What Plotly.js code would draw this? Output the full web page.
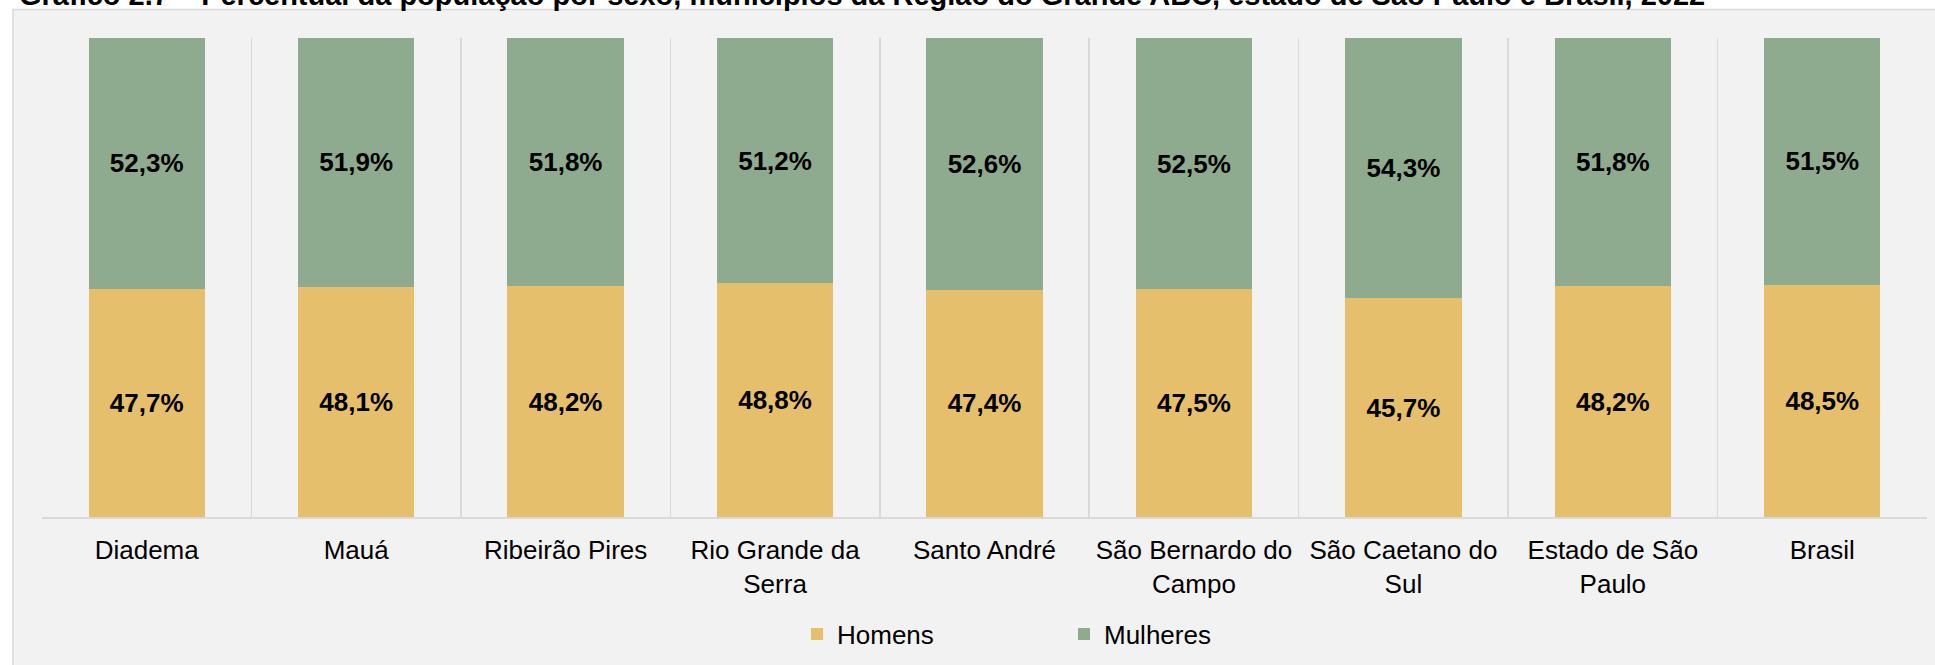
<!DOCTYPE html>
<html>
<head>
<meta charset="utf-8">
<script src="https://cdn.plot.ly/plotly-3.0.1.min.js"></script>
<style>
html,body{margin:0;padding:0;background:#ffffff;}
#chart{width:1935px;height:665px;}
</style>
</head>
<body>
<div id="chart"></div>
<script>
const categories = [
  "Diadema",
  "Mauá",
  "Ribeirão Pires",
  "Rio Grande da<br>Serra",
  "Santo André",
  "São Bernardo do<br>Campo",
  "São Caetano do<br>Sul",
  "Estado de São<br>Paulo",
  "Brasil"
];
const homens   = [47.7, 48.1, 48.2, 48.8, 47.4, 47.5, 45.7, 48.2, 48.5];
const mulheres = [52.3, 51.9, 51.8, 51.2, 52.6, 52.5, 54.3, 51.8, 51.5];
const seriesNames = ["Homens", "Mulheres"];
const titleText = "Gráfico 2.7 – Percentual da população por sexo, municípios da Região do Grande ABC, estado de São Paulo e Brasil, 2022";

const W = 1935, H = 665;
const M = {l: 42, r: 8, t: 38, b: 148};
const pw = W - M.l - M.r, ph = H - M.t - M.b;
const px2x = p => (p - M.l) / pw;
const py2y = p => (H - M.b - p) / ph;

const font = "Liberation Sans, Arial, sans-serif";
const common = {
  type: "bar",
  x: categories,
  textposition: "inside",
  insidetextanchor: "middle",
  texttemplate: "%{y:.1f}%",
  textfont: {family: font, size: 26, color: "#000000", weight: "bold"},
  hoverinfo: "skip"
};

const data = [
  Object.assign({}, common, {name: seriesNames[0], y: homens, marker: {color: "#E5BF6B"}}),
  Object.assign({}, common, {name: seriesNames[1], y: mulheres, marker: {color: "#8EAB8F"}})
];

const layout = {
  width: W, height: H,
  margin: M,
  barmode: "stack",
  bargap: 0.445,
  separators: ",.",
  paper_bgcolor: "#ffffff",
  plot_bgcolor: "rgba(0,0,0,0)",
  font: {family: font, size: 24, color: "#000000"},
  xaxis: {
    type: "category",
    tickson: "boundaries",
    showgrid: true,
    gridcolor: "#D9D9D9",
    gridwidth: 1.5,
    showline: true,
    linecolor: "#D9D9D9",
    linewidth: 1.5,
    ticks: "",
    ticklabelstandoff: 9,
    tickfont: {family: font, size: 26, color: "#000000"},
    fixedrange: true
  },
  yaxis: {
    range: [0, 100],
    showgrid: false,
    zeroline: false,
    showticklabels: false,
    showline: false,
    fixedrange: true
  },
  showlegend: true,
  legend: {
    orientation: "h",
    traceorder: "normal",
    x: px2x(797), xanchor: "left",
    y: py2y(634), yanchor: "middle",
    font: {family: font, size: 26, color: "#000000"},
    entrywidth: 222, entrywidthmode: "pixels",
    bgcolor: "rgba(0,0,0,0)"
  },
  annotations: [{
    text: "<b>" + titleText + "</b>",
    font: {family: font, size: 29, color: "#000000"},
    xref: "paper", yref: "paper",
    x: px2x(17), xanchor: "left",
    y: py2y(-5), yanchor: "middle",
    showarrow: false
  }],
  shapes: [{
    type: "rect", layer: "below",
    xref: "paper", yref: "paper",
    x0: px2x(13), x1: px2x(1940),
    y0: py2y(670), y1: py2y(9.5),
    fillcolor: "#F2F2F2",
    line: {color: "#D9D9D9", width: 1.5}
  }]
};

Plotly.newPlot("chart", data, layout, {displayModeBar: false, staticPlot: true});
</script>
</body>
</html>
